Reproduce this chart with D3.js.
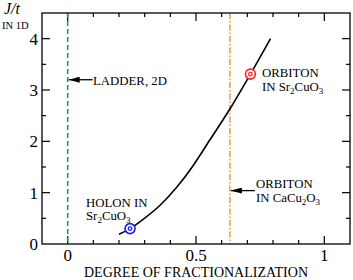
<!doctype html>
<meta charset="utf-8">
<title>J/t vs degree of fractionalization</title>
<style>
    html, body { margin: 0; background: white; }
    svg { display: block; }
    .frame { fill: none; stroke: black; stroke-width: 1.3; }
    .tick { stroke: black; stroke-width: 1.2; }
    .curve { fill: none; stroke: black; stroke-width: 1.6; }
</style>
<svg width="353" height="280"></svg>
<script src="https://cdnjs.cloudflare.com/ajax/libs/d3/7.8.5/d3.min.js"></script>
<script>
    var serif = "'Liberation Serif', 'Times New Roman', 'DejaVu Serif', serif";

    // curve
    var curveX = [0.2, 0.243, 0.294, 0.359, 0.424, 0.488, 0.553, 0.632, 0.712, 0.79];
    var curveY = [0.19, 0.3, 0.48, 0.75, 1.1, 1.52, 2.02, 2.63, 3.31, 4.0];

    // markers: holon (blue), orbiton (red)
    var markerX = [0.243, 0.712];
    var markerY = [0.3, 3.31];
    var markerColor = ['#1a1aff', '#ff2020'];

    // vertical reference lines
    var ladderX = 0;
    var orbitonCaX = 0.632;

    var xMajor = [0, 0.5, 1];
    var xMajorLabels = ['0', '0.5', '1'];
    var yMajor = [0, 1, 2, 3, 4];
    var yMajorLabels = ['0', '1', '2', '3', '4'];

    var svg = d3.select('svg');
    var x = d3.scaleLinear().domain([-0.1, 1.1]).range([42, 350]);
    var y = d3.scaleLinear().domain([0, 4.5]).range([244, 13]);
    var plotL = x.range()[0], plotR = x.range()[1], plotT = y.range()[1], plotB = y.range()[0];

    function addText(tx, ty, size, str) {
        return svg.append('text').attr('x', tx).attr('y', ty)
            .attr('font-family', serif).attr('font-size', size).attr('fill', 'black').text(str);
    }

    // ticks on all four sides, pointing inward
    var xTicks = d3.range(-0.1, 1.1001, 0.1).map(function (v) { return Math.round(v * 10) / 10; });
    var yTicks = d3.range(0, 4.5001, 0.5);
    function isMajor(v, step) { return Math.abs(v / step - Math.round(v / step)) < 1e-6; }

    var g = svg.append('g');
    xTicks.forEach(function (v) {
        if (v <= -0.1 || v >= 1.1) return;
        var len = isMajor(v, 0.5) ? 8 : 4;
        g.append('line').attr('class', 'tick').attr('x1', x(v)).attr('x2', x(v)).attr('y1', plotB).attr('y2', plotB - len);
        g.append('line').attr('class', 'tick').attr('x1', x(v)).attr('x2', x(v)).attr('y1', plotT).attr('y2', plotT + len);
    });
    yTicks.forEach(function (v) {
        if (v <= 0 || v >= 4.5) return;
        var len = isMajor(v, 1) ? 8 : 4;
        g.append('line').attr('class', 'tick').attr('y1', y(v)).attr('y2', y(v)).attr('x1', plotL).attr('x2', plotL + len);
        g.append('line').attr('class', 'tick').attr('y1', y(v)).attr('y2', y(v)).attr('x1', plotR).attr('x2', plotR - len);
    });

    xMajor.forEach(function (v, i) {
        addText(x(v), 261, 17, xMajorLabels[i]).attr('text-anchor', 'middle');
    });
    yMajor.forEach(function (v, i) {
        addText(38, y(v) + 6, 17, yMajorLabels[i]).attr('text-anchor', 'end');
    });

    addText((plotL + plotR) / 2, 277, 14, 'DEGREE OF FRACTIONALIZATION').attr('text-anchor', 'middle');
    addText(4, 14, 16, 'J/t').attr('font-style', 'italic');
    addText(2, 29, 10.5, 'IN 1D');

    // reference lines
    svg.append('line').attr('x1', x(ladderX)).attr('x2', x(ladderX)).attr('y1', plotT).attr('y2', plotB)
        .attr('stroke', '#1f9a55').attr('stroke-width', 1.6).attr('stroke-dasharray', '5,3');
    svg.append('line').attr('x1', x(orbitonCaX)).attr('x2', x(orbitonCaX)).attr('y1', plotT).attr('y2', plotB)
        .attr('stroke', '#f5a033').attr('stroke-width', 1.6).attr('stroke-dasharray', '6,2,1.5,2');

    // curve
    var line = d3.line().curve(d3.curveMonotoneX)
        .x(function (d, i) { return x(curveX[i]); })
        .y(function (d, i) { return y(curveY[i]); });
    svg.append('path').attr('class', 'curve').attr('d', line(curveX));

    markerX.forEach(function (v, i) {
        svg.append('circle').attr('cx', x(v)).attr('cy', y(markerY[i])).attr('r', 5)
            .attr('fill', 'white').attr('stroke', markerColor[i]).attr('stroke-width', 1.6);
        svg.append('circle').attr('cx', x(v)).attr('cy', y(markerY[i])).attr('r', 1.8)
            .attr('fill', 'none').attr('stroke', markerColor[i]).attr('stroke-width', 1.3);
    });

    // arrows pointing left at the reference lines
    svg.append('defs').append('marker').attr('id', 'head').attr('viewBox', '0 0 11 6')
        .attr('refX', 0).attr('refY', 3).attr('markerWidth', 11).attr('markerHeight', 6)
        .attr('markerUnits', 'userSpaceOnUse').attr('orient', 'auto')
        .append('path').attr('d', 'M0,3L11,0L11,6Z').attr('fill', 'black');
    function arrow(x0, x1, yv) {
        svg.append('line').attr('x1', x0).attr('x2', x1).attr('y1', y(yv)).attr('y2', y(yv))
            .attr('stroke', 'black').attr('stroke-width', 1.3).attr('marker-start', 'url(#head)');
    }
    arrow(x(ladderX) + 1, x(ladderX) + 25, 3.2);
    arrow(x(orbitonCaX) + 1, x(orbitonCaX) + 25, 1.04);

    // text with subscripts: strings are normal runs, {sub: '2'} are subscripts
    function label(tx, ty, parts) {
        var t = addText(tx, ty, 12.8, null);
        var shift = 0;
        parts.forEach(function (p) {
            if (typeof p === 'string') {
                t.append('tspan').attr('dy', -shift).text(p);
                shift = 0;
            } else {
                t.append('tspan').attr('dy', 3 - shift).attr('font-size', 9).text(p.sub);
                shift = 3;
            }
        });
        return t;
    }
    label(93, 85, ['LADDER, 2D']);
    label(256, 188, ['ORBITON']);
    label(256, 202, ['IN CaCu', {sub: '2'}, 'O', {sub: '3'}]);
    label(262, 77, ['ORBITON']);
    label(262, 91, ['IN Sr', {sub: '2'}, 'CuO', {sub: '3'}]);
    label(86, 207, ['HOLON IN']);
    label(86, 220, ['Sr', {sub: '2'}, 'CuO', {sub: '3'}]);

    svg.append('rect').attr('class', 'frame').attr('x', plotL).attr('y', plotT)
        .attr('width', plotR - plotL).attr('height', plotB - plotT);
</script>
